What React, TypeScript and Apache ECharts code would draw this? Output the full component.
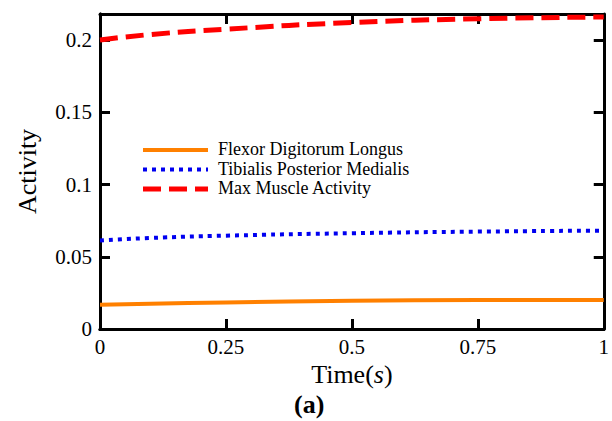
import React, { useEffect, useRef } from "react";
import * as echarts from "echarts";

const timeValues = [0, 0.1, 0.25, 0.5, 0.75, 1];
const flexorValues = [0.0168, 0.0175, 0.0183, 0.0195, 0.0200, 0.0201];
const tibialisValues = [0.0612, 0.0630, 0.0646, 0.0663, 0.0674, 0.0681];
const maxValues = [0.2000, 0.2038, 0.2075, 0.2121, 0.2147, 0.2159];
const seriesNames = ["Flexor Digitorum Longus", "Tibialis Posterior Medialis", "Max Muscle Activity"];
const xTicks = [0, 0.25, 0.5, 0.75, 1];
const yTicks = [0, 0.05, 0.1, 0.15, 0.2];

const FONT = "'Liberation Serif', 'DejaVu Serif', serif";
const COLORS = ["#FF8000", "#0000F0", "#FF0000"];
const WIDTHS = [4, 4, 5];
const DASHES: any[] = ["solid", [4, 5], [18, 8]];

function pairs(ys: number[]) {
  return timeValues.map((t, i) => [t, ys[i]]);
}

export default function App() {
  const ref = useRef<HTMLDivElement>(null);
  useEffect(() => {
    if (!ref.current) return;
    const chart = echarts.init(ref.current, null, { renderer: "svg" });
    const axisLine = () => ({ show: true, onZero: false, lineStyle: { color: "#000", width: 3 } });
    const axisTick = () => ({ show: true, inside: true, length: 10, lineStyle: { color: "#000", width: 3 } });
    const fmt = (v: number) => String(Number(v.toFixed(3)));
    const legendRows = [150, 169.5, 189];
    const xBase = { type: "value", min: 0, max: 1, interval: 0.25, splitLine: { show: false } };
    const yBase = { type: "value", min: 0, max: 0.218, interval: 0.05, splitLine: { show: false } };
    chart.setOption({
      animation: false,
      backgroundColor: "#fff",
      grid: { left: 100, right: 4, top: 14, bottom: 92 },
      legend: {
        orient: "vertical",
        left: 207,
        top: 135,
        itemWidth: 1,
        itemHeight: 10,
        itemGap: 1.5,
        data: seriesNames,
        icon: "none",
        textStyle: { fontFamily: FONT, fontSize: 18, color: "#000" },
      },
      xAxis: [
        {
          ...xBase,
          position: "bottom",
          axisLine: axisLine(),
          axisTick: { show: false },
          axisLabel: {
            fontFamily: FONT,
            fontSize: 21,
            color: "#000",
            margin: 7,
            formatter: (v: number) => (xTicks.includes(Number(v.toFixed(3))) ? fmt(v) : ""),
          },
          name: "{n|Time}{n|(}{i|s}{n|)}",
          nameLocation: "middle",
          nameGap: 24,
          nameTextStyle: {
            rich: {
              n: { fontFamily: FONT, fontSize: 26, color: "#000" },
              i: { fontFamily: FONT, fontSize: 26, color: "#000", fontStyle: "italic" },
            },
          },
        },
        { ...xBase, position: "top", axisLine: axisLine(), axisTick: axisTick(), axisLabel: { show: false } },
        { ...xBase, position: "bottom", axisLine: axisLine(), axisTick: axisTick(), axisLabel: { show: false } },
      ],
      yAxis: [
        {
          ...yBase,
          position: "left",
          axisLine: axisLine(),
          axisTick: { show: false },
          axisLabel: {
            fontFamily: FONT,
            fontSize: 21,
            color: "#000",
            margin: 8,
            showMaxLabel: false,
            formatter: (v: number) => (yTicks.includes(Number(v.toFixed(3))) ? fmt(v) : ""),
          },
          name: "Activity",
          nameLocation: "middle",
          nameGap: 60,
          nameTextStyle: { fontFamily: FONT, fontSize: 26, color: "#000" },
        },
        { ...yBase, position: "right", axisLine: axisLine(), axisTick: axisTick(), axisLabel: { show: false } },
        { ...yBase, position: "left", axisLine: axisLine(), axisTick: axisTick(), axisLabel: { show: false } },
      ],
      series: [flexorValues, tibialisValues, maxValues].map((vals, i) => ({
        name: seriesNames[i],
        type: "line",
        smooth: true,
        symbol: "none",
        data: pairs(vals),
        color: COLORS[i],
        lineStyle: { color: COLORS[i], width: WIDTHS[i], type: DASHES[i] },
        z: 3,
      })),
      graphic: [
        ...legendRows.map((y, i) => ({
          type: "line",
          shape: { x1: 143, y1: y, x2: 208, y2: y },
          style: {
            stroke: COLORS[i],
            lineWidth: WIDTHS[i],
            lineDash: i === 0 ? null : DASHES[i],
          },
        })),
        {
          type: "text",
          left: 294,
          top: 391,
          style: { text: "(a)", font: `bold 26px ${FONT}`, fill: "#000" },
        },
      ],
    });
    return () => chart.dispose();
  }, []);
  return <div ref={ref} style={{ width: 612, height: 421, position: "absolute", left: 0, top: 0 }} />;
}
